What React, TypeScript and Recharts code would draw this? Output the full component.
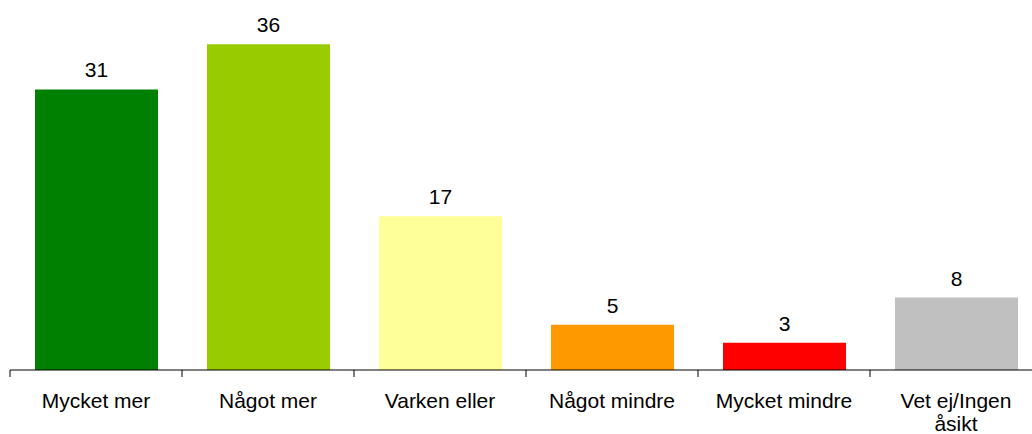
import React from "react";
import { BarChart, Bar, XAxis, YAxis, Cell, LabelList } from "recharts";

const categories = [
  "Mycket mer",
  "Något mer",
  "Varken eller",
  "Något mindre",
  "Mycket mindre",
  "Vet ej/Ingen åsikt",
];
const values = [31, 36, 17, 5, 3, 8];
const colors = ["#008000", "#99CC00", "#FFFF99", "#FF9900", "#FF0000", "#C0C0C0"];

const data = categories.map((name, i) => ({ name, value: values[i] }));

const BAND = 172;
const FONT = "Liberation Sans, Arial, sans-serif";

// greedy wrap by character count
function wrap(label: string, maxChars = 14) {
  const lines: string[] = [];
  let cur = "";
  for (const w of label.split(" ")) {
    const next = cur ? cur + " " + w : w;
    if (next.length > maxChars && cur) {
      lines.push(cur);
      cur = w;
    } else {
      cur = next;
    }
  }
  if (cur) lines.push(cur);
  return lines;
}

function CategoryTick(props: any) {
  const { x, y, payload, index } = props;
  const half = BAND / 2;
  const isLast = index === categories.length - 1;
  const lines = wrap(String(payload.value));
  return (
    <g>
      <line x1={x - half} y1={y - 8} x2={x - half} y2={y - 1} stroke="#000" />
      {isLast && (
        <line x1={x + half} y1={y - 8} x2={x + half} y2={y - 1} stroke="#000" />
      )}
      <text
        x={x}
        y={y + 30}
        textAnchor="middle"
        fill="#000"
        style={{ fontSize: 21, fontFamily: FONT }}
      >
        {lines.map((l, i) => (
          <tspan key={i} x={x} dy={i === 0 ? 0 : 23}>
            {l}
          </tspan>
        ))}
      </text>
    </g>
  );
}

export default function App() {
  return (
    <div
      style={{
        position: "absolute",
        left: 0,
        top: 0,
        width: 1032,
        height: 434,
        overflow: "hidden",
        background: "#fff",
      }}
    >
      <BarChart
        width={1042}
        height={434}
        data={data}
        margin={{ top: 8, right: 0, bottom: 34, left: 10 }}
        barSize={123}
      >
        <YAxis hide domain={[0, 40]} />
        <XAxis
          dataKey="name"
          axisLine={{ stroke: "#000" }}
          tickLine={false}
          interval={0}
          tick={<CategoryTick />}
          tickMargin={0}
          tickSize={8}
        />
        <Bar dataKey="value" isAnimationActive={false}>
          {data.map((d, i) => (
            <Cell key={d.name} fill={colors[i]} />
          ))}
          <LabelList
            dataKey="value"
            position="top"
            offset={12}
            fill="#000"
            style={{ fontSize: 21, fontFamily: FONT }}
          />
        </Bar>
      </BarChart>
    </div>
  );
}
